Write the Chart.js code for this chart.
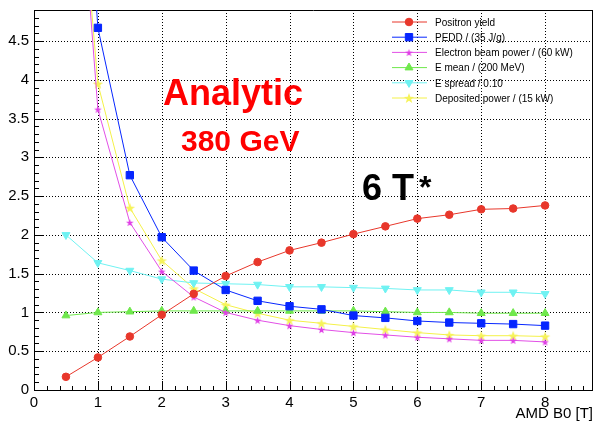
<!DOCTYPE html>
<html lang="en">
  <head>
    <meta charset="UTF-8" />
    <title>AMD B0 scan</title>
    <style>
      html,
      body {
        margin: 0;
        padding: 0;
        background: #fff;
      }
      .plot {
        width: 593px;
        height: 423px;
      }
    </style>
  </head>
  <body>
    <div class="plot"><canvas id="scan"></canvas></div>

    <script src="https://cdn.jsdelivr.net/npm/chart.js@4/dist/chart.umd.min.js"></script>
    <script>
      // values, x = AMD B0 [T]
      const fieldB0 = [0.5, 1, 1.5, 2, 2.5, 3, 3.5, 4, 4.5, 5, 5.5, 6, 6.5, 7, 7.5, 8];
      const positronYield = [0.17, 0.42, 0.69, 0.97, 1.24, 1.47, 1.65, 1.8, 1.9, 2.01, 2.11, 2.21, 2.26, 2.33, 2.34, 2.38];
      const pedd = [10.7, 4.67, 2.77, 1.97, 1.54, 1.29, 1.15, 1.08, 1.04, 0.96, 0.93, 0.89, 0.87, 0.86, 0.85, 0.83];
      const beamPower = [9.0, 3.62, 2.16, 1.53, 1.2, 1.0, 0.9, 0.83, 0.78, 0.74, 0.71, 0.68, 0.66, 0.64, 0.64, 0.62];
      const eMean = [0.96, 1.0, 1.01, 1.02, 1.02, 1.02, 1.02, 1.02, 1.02, 1.02, 1.01, 1.0, 1.0, 0.99, 0.99, 0.99];
      const eSpread = [2.0, 1.64, 1.54, 1.43, 1.38, 1.37, 1.36, 1.33, 1.33, 1.32, 1.31, 1.29, 1.29, 1.26, 1.26, 1.24];
      const depositedPower = [8.8, 3.95, 2.35, 1.67, 1.31, 1.1, 0.99, 0.9, 0.86, 0.82, 0.78, 0.74, 0.71, 0.7, 0.7, 0.69];

      const FONT = "'Liberation Sans', Arial, Helvetica, sans-serif";

      // filled five point star (ROOT marker 29)
      function starImage(size, fill) {
        const c = document.createElement("canvas");
        c.width = size;
        c.height = size;
        const g = c.getContext("2d");
        const r = size / 2 - 0.5;
        const ri = r * 0.4;
        g.beginPath();
        for (let i = 0; i < 10; i++) {
          const rr = i % 2 == 0 ? r : ri;
          const a = -Math.PI / 2 + (i * Math.PI) / 5;
          g.lineTo(size / 2 + rr * Math.cos(a), size / 2 + 0.6 + rr * Math.sin(a));
        }
        g.closePath();
        g.fillStyle = fill;
        g.fill();
        return c;
      }

      const pts = (ys) => fieldB0.map((x, i) => ({ x: x, y: ys[i] }));

      const series = [
        { label: "Positron yield", data: pts(positronYield), color: "#e8372b", style: "circle", radius: 3.8 },
        { label: "PEDD / (35 J/g)", data: pts(pedd), color: "#0626ff", style: "rect", radius: 5.2 },
        { label: "Electron beam power / (60 kW)", data: pts(beamPower), color: "#e24fe6", style: starImage(9, "#e040e6"), radius: 4 },
        { label: "E mean / (200 MeV)", data: pts(eMean), color: "#6fe84c", style: "triangle", radius: 4.6 },
        { label: "E spread / 0.10", data: pts(eSpread), color: "#6ff2f2", style: "triangle", radius: 4.6, rotation: 180 },
        { label: "Deposited power / (15 kW)", data: pts(depositedPower), color: "#f4f148", style: starImage(12, "#f6f35a"), radius: 5 },
      ];

      // dotted grid, inner ticks, frame, texts and legend, drawn ROOT like
      const rootDecor = {
        id: "rootDecor",
        beforeDatasetsDraw(chart) {
          const { ctx, chartArea: a, scales } = chart;
          ctx.save();
          ctx.strokeStyle = "#000";
          ctx.lineWidth = 1;

          // grid
          ctx.setLineDash([1, 2]);
          ctx.beginPath();
          scales.y.ticks.forEach((t) => {
            if (t.value == 0) return;
            const y = Math.round(scales.y.getPixelForValue(t.value)) + 0.5;
            ctx.moveTo(a.left, y);
            ctx.lineTo(a.right, y);
          });
          scales.x.ticks.forEach((t) => {
            if (t.value == 0) return;
            const x = Math.round(scales.x.getPixelForValue(t.value)) + 0.5;
            ctx.moveTo(x, a.top);
            ctx.lineTo(x, a.bottom);
          });
          ctx.stroke();
          ctx.setLineDash([]);

          // ticks and frame
          ctx.beginPath();
          for (let v = 0; v <= 4.9 + 1e-9; v += 0.1) {
            const y = Math.round(scales.y.getPixelForValue(v)) + 0.5;
            const major = Math.abs(v * 2 - Math.round(v * 2)) < 1e-6;
            ctx.moveTo(a.left, y);
            ctx.lineTo(a.left + (major ? 10 : 5), y);
          }
          for (let v = 0; v <= 8.75 + 1e-9; v += 0.2) {
            const x = Math.round(scales.x.getPixelForValue(v)) + 0.5;
            const major = Math.abs(v - Math.round(v)) < 1e-6;
            ctx.moveTo(x, a.bottom);
            ctx.lineTo(x, a.bottom - (major ? 9 : 4));
          }
          ctx.moveTo(a.left, a.top + 0.5);
          ctx.lineTo(a.right, a.top + 0.5);
          ctx.moveTo(a.right - 0.5, a.top);
          ctx.lineTo(a.right - 0.5, a.bottom);
          ctx.stroke();
          ctx.restore();
        },
        afterDatasetsDraw(chart) {
          const ctx = chart.ctx;
          ctx.save();
          ctx.textAlign = "left";
          ctx.textBaseline = "alphabetic";
          ctx.fillStyle = "#ff0000";
          ctx.font = "bold 36px " + FONT;
          ctx.fillText("Analytic", 163, 105);
          ctx.font = "bold 30px " + FONT;
          ctx.fillText("380 GeV", 181, 151);
          ctx.fillStyle = "#000";
          ctx.font = "bold 36px " + FONT;
          ctx.fillText("6 T", 362, 200);
          ctx.font = "bold 32px " + FONT;
          ctx.fillText("*", 419, 198);

          // legend
          ctx.font = "10px " + FONT;
          ctx.textBaseline = "middle";
          chart.data.datasets.forEach((ds, i) => {
            const y = 22 + i * 15.2;
            ctx.strokeStyle = ds.borderColor;
            ctx.lineWidth = 1;
            ctx.beginPath();
            ctx.moveTo(392, y);
            ctx.lineTo(427, y);
            ctx.stroke();
            ctx.fillStyle = ds.pointBackgroundColor;
            ctx.strokeStyle = ds.pointBorderColor;
            Chart.helpers.drawPoint(
              ctx,
              { pointStyle: ds.pointStyle, radius: ds.pointRadius, rotation: ds.pointRotation || 0, borderWidth: 1 },
              409,
              y
            );
            ctx.fillStyle = "#000";
            ctx.fillText(ds.label, 435, y + 1);
          });
          ctx.restore();
        },
      };

      new Chart(document.getElementById("scan"), {
        type: "line",
        data: {
          datasets: series.map((s) => ({
            label: s.label,
            data: s.data,
            borderColor: s.color,
            borderWidth: 1,
            backgroundColor: s.color,
            pointBackgroundColor: s.color,
            pointBorderColor: s.color,
            pointBorderWidth: 1,
            pointStyle: s.style,
            pointRadius: s.radius,
            pointRotation: s.rotation || 0,
            tension: 0,
            fill: false,
          })),
        },
        options: {
          responsive: true,
          maintainAspectRatio: false,
          animation: false,
          layout: { autoPadding: false, padding: { top: 10, right: 0, left: 0, bottom: 0 } },
          plugins: { legend: { display: false }, tooltip: { enabled: false } },
          scales: {
            x: {
              type: "linear",
              min: 0,
              max: 8.75,
              afterBuildTicks: (s) => {
                s.ticks = s.ticks.filter((t) => Math.abs(t.value - Math.round(t.value)) < 1e-6);
              },
              afterFit: (s) => {
                s.height = 33;
                s.paddingLeft = 0;
                s.paddingRight = 0;
              },
              ticks: {
                stepSize: 1,
                includeBounds: false,
                padding: 4,
                color: "#000",
                maxRotation: 0,
                font: { family: FONT, size: 15 },
              },
              grid: { display: false, drawTicks: false, tickLength: 0 },
              border: { display: true, color: "#000", width: 1 },
              title: {
                display: true,
                text: "AMD B0 [T]",
                align: "end",
                color: "#000",
                padding: { top: 0, bottom: 0 },
                font: { family: FONT, size: 15 },
              },
            },
            y: {
              type: "linear",
              min: 0,
              max: 4.9,
              afterBuildTicks: (s) => {
                s.ticks = s.ticks.filter((t) => Math.abs(t.value * 2 - Math.round(t.value * 2)) < 1e-6);
              },
              afterFit: (s) => {
                s.width = 34;
                s.paddingTop = 0;
                s.paddingBottom = 0;
              },
              ticks: {
                stepSize: 0.5,
                includeBounds: false,
                padding: 5,
                color: "#000",
                font: { family: FONT, size: 15 },
                callback: (v) => String(v),
              },
              grid: { display: false, drawTicks: false, tickLength: 0 },
              border: { display: true, color: "#000", width: 1 },
            },
          },
        },
        plugins: [rootDecor],
      });
    </script>
  </body>
</html>
